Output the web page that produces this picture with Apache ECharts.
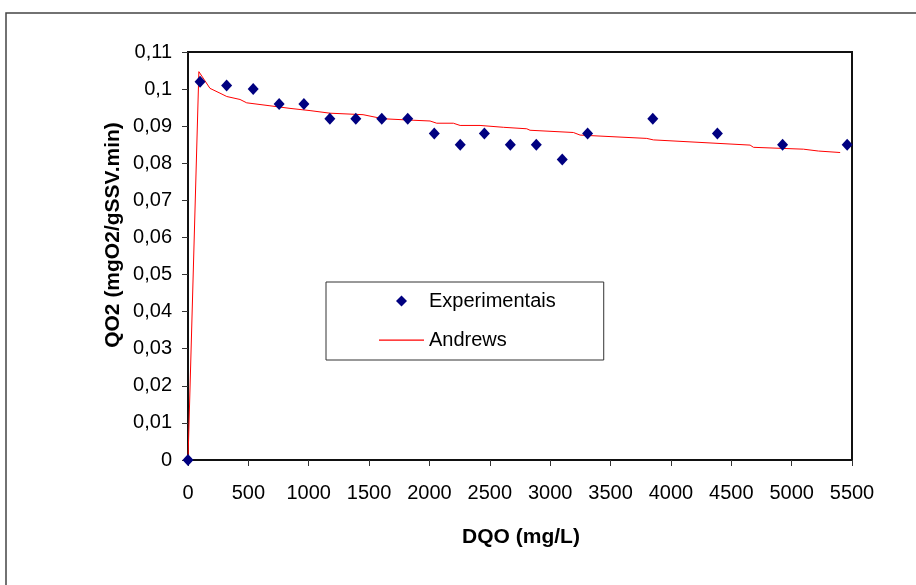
<!DOCTYPE html>
<html>
<head>
<meta charset="utf-8">
<script src="https://cdn.jsdelivr.net/npm/echarts@6/dist/echarts.min.js"></script>
<style>
  html, body { margin: 0; padding: 0; background: #fff; }
  #chart { width: 916px; height: 585px; }
</style>
</head>
<body>
<div id="chart"></div>
<script>
// Oxygen uptake rate versus COD: measured points and Andrews model fit
const dqoExp = [0, 100, 320, 540, 755, 960, 1175, 1390, 1605, 1820, 2040, 2255, 2455, 2670, 2885, 3100, 3310, 3850, 4385, 4925, 5460];
const qo2Exp = [0, 0.102, 0.101, 0.100, 0.096, 0.096, 0.092, 0.092, 0.092, 0.092, 0.088, 0.085, 0.088, 0.085, 0.085, 0.081, 0.088, 0.092, 0.088, 0.085, 0.085];

const dqoAndrews = [0, 90, 182, 265, 321, 431, 486, 679, 845, 1011, 1176, 1450, 1616, 1864, 2005, 2060, 2198, 2254, 2419, 2612, 2806, 2833, 3192, 3248, 3800, 3855, 4656, 4684, 5098, 5222, 5402];
const qo2Andrews = [0, 0.1047, 0.1002, 0.0989, 0.0980, 0.0972, 0.0963, 0.0955, 0.0948, 0.0942, 0.0935, 0.0931, 0.0920, 0.0916, 0.0914, 0.0908, 0.0908, 0.0902, 0.0902, 0.0897, 0.0893, 0.0889, 0.0883, 0.0876, 0.0867, 0.0863, 0.0849, 0.0843, 0.0838, 0.0833, 0.0829];

const seriesNames = ['Experimentais', 'Andrews'];
const xTitle = 'DQO (mg/L)';
const yTitle = 'QO2 (mgO2/gSSV.min)';

const FONT = '"Liberation Sans", Arial, sans-serif';

// Legend icons share a 45x11 box: a small centred diamond, and a thin line across
const ICON_DIAMOND = 'path://M0,0L0,0M45,11L45,11M22.5,0L28,5.5L22.5,11L17,5.5Z';
const ICON_LINE = 'path://M0,0L0,0M45,11L45,11M0,5L45,5L45,6.2L0,6.2Z';

const zip = (xs, ys) => xs.map((x, i) => [x, ys[i]]);

const chart = echarts.init(document.getElementById('chart'), null, { renderer: 'canvas' });

chart.setOption({
  backgroundColor: '#ffffff',
  animation: false,
  grid: {
    left: 188, right: 64, top: 52, bottom: 125,
    show: true, borderColor: '#111', borderWidth: 2, backgroundColor: 'transparent'
  },
  xAxis: {
    type: 'value', min: 0, max: 5500, interval: 500,
    axisLine: { show: true, onZero: false, lineStyle: { color: '#111', width: 2 } },
    axisTick: { show: true, length: 6, inside: false, lineStyle: { color: '#333', width: 1 } },
    axisLabel: { margin: 23, color: '#000', fontFamily: FONT, fontSize: 20, formatter: v => String(v) },
    splitLine: { show: false }
  },
  yAxis: {
    type: 'value', min: 0, max: 0.11, interval: 0.01,
    axisLine: { show: true, onZero: false, lineStyle: { color: '#111', width: 2 } },
    axisTick: { show: true, length: 6, inside: false, lineStyle: { color: '#333', width: 1 } },
    axisLabel: {
      margin: 16, color: '#000', fontFamily: FONT, fontSize: 20,
      formatter: v => String(Math.round(v * 1000) / 1000).replace('.', ',')
    },
    splitLine: { show: false }
  },
  legend: {
    orient: 'vertical',
    left: 326, top: 282,
    padding: [9, 48, 10, 53],
    itemGap: 19,
    itemWidth: 45, itemHeight: 11,
    backgroundColor: '#fff',
    borderColor: '#333', borderWidth: 1,
    textStyle: { color: '#000', fontFamily: FONT, fontSize: 20 },
    data: [
      { name: seriesNames[0], icon: ICON_DIAMOND, itemStyle: { color: '#000080' } },
      { name: seriesNames[1], icon: ICON_LINE, itemStyle: { color: '#ff0000' } }
    ]
  },
  graphic: [
    {
      type: 'rect', silent: true, z: -1,
      shape: { x: 6, y: 13, width: 1000, height: 1000 },
      style: { fill: 'none', stroke: '#444', lineWidth: 1.5 }
    },
    {
      type: 'text', x: 521, y: 537,
      style: { text: xTitle, font: 'bold 21px ' + FONT, fill: '#000', align: 'center', verticalAlign: 'middle' }
    },
    {
      type: 'text', x: 113, y: 235, rotation: Math.PI / 2,
      style: { text: yTitle, font: 'bold 21px ' + FONT, fill: '#000', align: 'center', verticalAlign: 'middle' }
    }
  ],
  series: [
    {
      name: seriesNames[0],
      type: 'scatter',
      symbol: 'diamond',
      symbolSize: [11, 12],
      itemStyle: { color: '#000080', opacity: 1 },
      z: 3,
      data: zip(dqoExp, qo2Exp)
    },
    {
      name: seriesNames[1],
      type: 'line',
      symbol: 'none',
      showSymbol: false,
      lineStyle: { color: '#ff0000', width: 1 },
      itemStyle: { color: '#ff0000' },
      z: 2,
      data: zip(dqoAndrews, qo2Andrews)
    }
  ]
});
</script>
</body>
</html>
